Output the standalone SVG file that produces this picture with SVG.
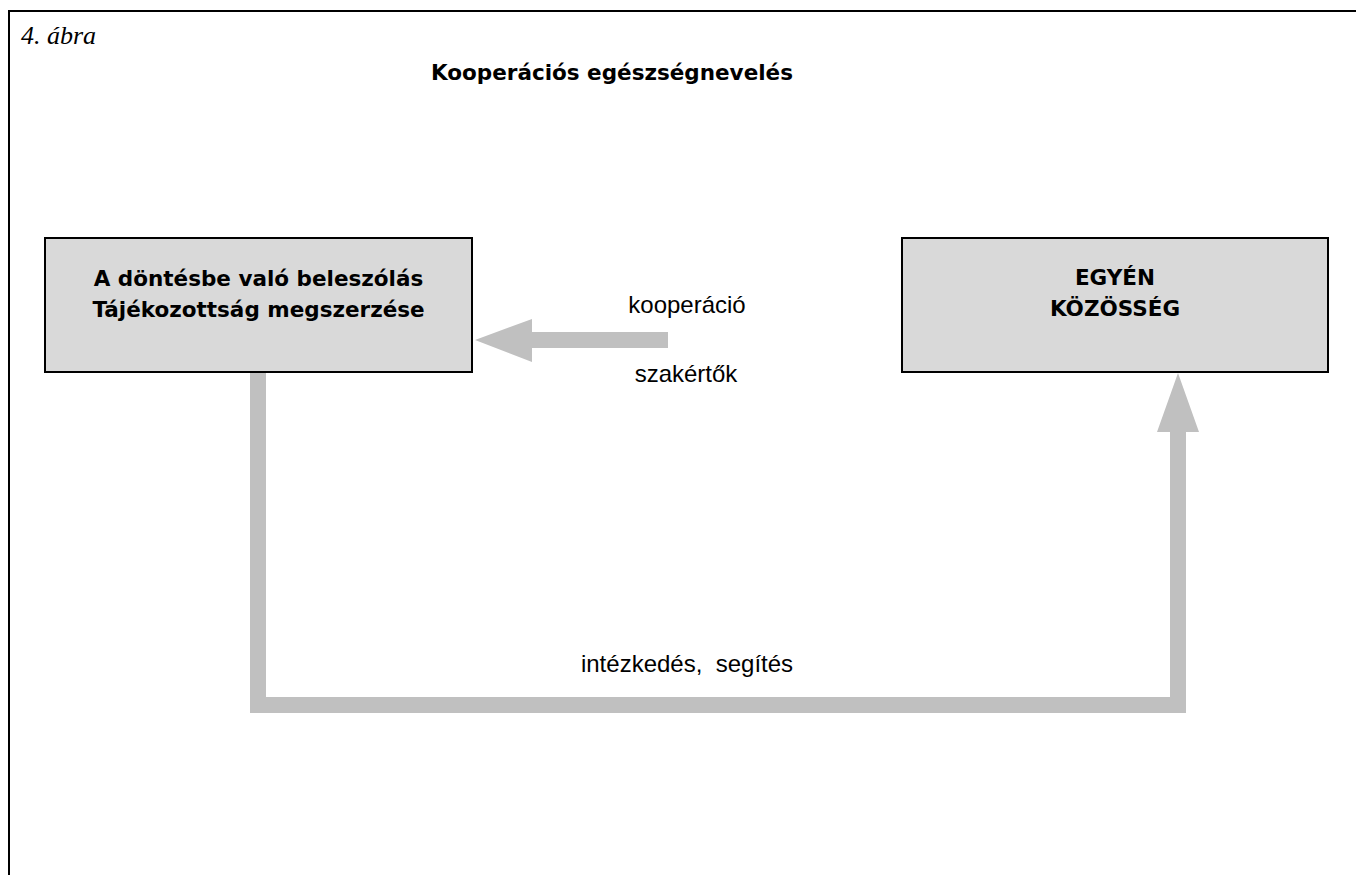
<svg xmlns="http://www.w3.org/2000/svg" width="1356" height="875" viewBox="0 0 1356 875">
<style>
.frame{fill:none;stroke:#000;stroke-width:2}
.box{fill:#d9d9d9;stroke:#000;stroke-width:2}
.arr{fill:#c0c0c0;stroke:none}
.bt{font-family:"DejaVu Sans",sans-serif;font-weight:bold;font-size:21.5px;fill:#000;text-anchor:middle}
.lt{font-family:"Liberation Sans",Arial,sans-serif;font-size:24px;fill:#000;text-anchor:middle}
.cap{font-family:"Liberation Serif","Times New Roman",serif;font-style:italic;font-size:26px;fill:#000}
</style>
<rect width="1356" height="875" fill="#fff"/>
<path class="frame" d="M9 875 V11 H1356"/>
<text class="cap" x="21" y="44">4. ábra</text>
<text class="bt" x="612" y="80">Kooperációs egészségnevelés</text>
<g id="connectors">
<path class="arr" d="M250 373 H266 V697 H1170 V432 H1157 L1178 373 L1199 432 H1186 V713 H250 Z"/>
<path class="arr" d="M668 332 H532 V319 L475 340 L532 362 V348 H668 Z"/>
<text class="lt" x="687" y="313">kooperáció</text>
<text class="lt" x="686" y="382">szakértők</text>
<text class="lt" x="687" y="672">intézkedés,&#160; segítés</text>
</g>
<g id="node-left">
<rect class="box" x="45" y="238" width="427" height="134"/>
<text class="bt" x="258.5" y="286">A döntésbe való beleszólás</text>
<text class="bt" x="258.5" y="317">Tájékozottság megszerzése</text>
</g>
<g id="node-right">
<rect class="box" x="902" y="238" width="426" height="134"/>
<text class="bt" x="1115" y="285">EGYÉN</text>
<text class="bt" x="1115" y="316">KÖZÖSSÉG</text>
</g>
</svg>
